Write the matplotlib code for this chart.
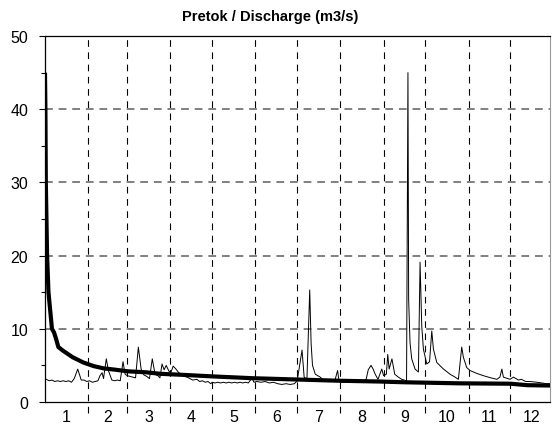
import matplotlib
matplotlib.use("Agg")
import matplotlib.pyplot as plt
from matplotlib.ticker import FixedLocator, NullFormatter, FixedFormatter

plt.rcParams['font.family'] = ['Liberation Sans', 'DejaVu Sans']

# days per month (x axis is day of year)
month_days = [31, 28, 31, 30, 31, 30, 31, 31, 30, 31, 30, 31]
month_labels = [str(m) for m in range(1, 13)]

# daily discharge hydrograph (day, m3/s)
flow_day = [1, 3, 5, 7, 9, 11, 13, 15, 17, 19, 21, 23.5, 25, 26, 28, 30, 32, 34, 36, 38,
            39.5, 41, 42, 44, 45.5, 48, 50, 52, 54, 56, 57.5, 59, 61, 63, 65, 67, 69, 71,
            73, 75, 77, 79, 81, 82.5, 84, 85.5, 87, 89, 90.5, 92, 94, 96, 98, 100, 102,
            104, 106, 109, 111, 113, 115, 117, 119, 120, 122, 124, 126, 128, 130, 132,
            134, 136, 138, 140, 142, 144, 146, 148.5, 150, 152, 155, 158, 161, 164, 167,
            170, 173, 176, 179, 181, 184.5, 186, 188, 190, 191, 192, 194, 197.5, 200,
            203, 206, 208, 210, 211, 213, 216, 219, 222, 225, 228, 230.5, 232, 234,
            235.5, 237, 239, 241.7, 243, 245, 246, 247, 249, 251, 253.6, 256, 259.5,
            260.5, 261, 262, 263.2, 265.6, 268, 269.2, 270.4, 271.6, 274, 276, 277.6,
            278.8, 281.2, 286, 290.7, 294.3, 296.7, 299.1, 300.3, 302.7, 305.1, 310,
            314.6, 320, 324.3, 326.5, 327.9, 329, 333.8, 336.2, 339.8, 342, 345, 348,
            353, 360.2, 362.5]
flow_val = [3.1, 2.9, 3.0, 2.8, 2.9, 2.8, 2.9, 2.8, 2.9, 2.7, 3.2, 4.5, 3.6, 3.0, 3.0, 2.8,
            2.9, 2.7, 2.8, 2.9, 3.6, 4.0, 3.2, 5.9, 4.3, 3.0, 2.9, 3.0, 2.9, 5.5, 3.8, 3.6,
            3.5, 3.4, 3.3, 7.5, 4.5, 3.7, 3.5, 3.2, 5.9, 3.8, 3.6, 3.3, 5.2, 4.4, 5.0, 4.2,
            4.1, 4.9, 4.5, 4.0, 3.8, 3.5, 3.4, 3.2, 3.0, 3.1, 2.8, 2.9, 2.7, 2.8, 2.5, 2.7,
            2.6, 2.7, 2.6, 2.7, 2.6, 2.7, 2.6, 2.7, 2.6, 2.7, 2.6, 2.7, 2.6, 3.3, 2.7, 2.8,
            2.7, 2.8, 2.6, 2.7, 2.5, 2.4, 2.5, 2.4, 2.5, 2.9, 7.1, 3.4, 3.1, 15.3, 8.0,
            5.0, 3.8, 3.4, 3.0, 2.9, 3.0, 2.9, 4.3, 2.9, 2.7, 2.8, 2.7, 2.8, 2.7, 2.8, 3.1,
            4.4, 5.0, 4.5, 3.8, 3.1, 4.5, 3.6, 3.8, 6.5, 4.5, 5.9, 3.8, 3.4, 3.1, 2.9,
            45.0, 14.0, 8.1, 5.9, 4.5, 4.1, 19.1, 10.4, 7.2, 5.2, 5.5, 9.7, 7.2, 5.4, 4.5,
            3.8, 3.4, 3.1, 7.5, 6.1, 4.7, 4.3, 3.9, 3.6, 3.3, 3.1, 3.4, 4.5, 3.4, 3.1, 3.4,
            3.0, 3.1, 2.8, 2.8, 2.7, 2.5, 2.5]

# flow duration curve (day, m3/s)
dur_day = [0, 0.3, 0.6, 1.5, 2.5, 5, 6.5, 8, 9.6, 13, 20, 27.5, 35, 42, 51, 59, 73, 83,
           100, 120, 149, 176, 212, 240, 257, 298, 334, 346, 362.5]
dur_val = [45, 40, 30, 20, 15, 10, 9.5, 8.6, 7.5, 7.0, 6.1, 5.4, 4.9, 4.6, 4.4, 4.2, 4.05,
           3.85, 3.7, 3.5, 3.25, 3.1, 2.9, 2.8, 2.7, 2.55, 2.5, 2.3, 2.25]

fig = plt.figure(figsize=(5.52, 4.27), dpi=100)
ax = fig.add_axes([0.0815, 0.0562, 0.915, 0.857])

bounds = []
acc = 0
for d in month_days[:-1]:
    acc += d
    bounds.append(acc)
mids = []
acc = 0
for d in month_days:
    mids.append(acc + d / 2)
    acc += d

for b in bounds:
    ax.axvline(b, ymin=-0.03, ymax=1, color='black', lw=0.8, ls=(0, (6, 5)),
               clip_on=False, zorder=1)
for yv in [10, 20, 30, 40]:
    ax.axhline(yv, color='#808080', lw=1.4, ls=(0, (4, 3)), zorder=1)

ax.plot(flow_day, flow_val, color='black', lw=0.7, zorder=2)
ax.plot(dur_day, dur_val, color='black', lw=3.0, zorder=3, solid_capstyle='butt')

ax.set_xlim(0, 362.5)
ax.set_ylim(0, 50)

ax.xaxis.set_major_locator(FixedLocator(mids))
ax.xaxis.set_major_formatter(FixedFormatter(month_labels))
ax.tick_params(axis='x', which='major', length=0, pad=5, labelsize=11.5)

ax.yaxis.set_major_locator(FixedLocator([0, 10, 20, 30, 40, 50]))
ax.yaxis.set_minor_locator(FixedLocator([5, 15, 25, 35, 45]))
ax.yaxis.set_minor_formatter(NullFormatter())
ax.tick_params(axis='y', which='major', length=4, width=0.8, pad=8, labelsize=11.5)
ax.tick_params(axis='y', which='minor', length=3, width=0.8)

for s in ['left', 'bottom', 'top']:
    ax.spines[s].set_linewidth(0.9)
ax.spines['right'].set_color('#999999')
ax.spines['right'].set_linewidth(0.8)

# title sits a little left of the axes centre in the original
fig.text(270 / 552, 1 - 17 / 427, 'Pretok / Discharge (m3/s)', fontsize=10.5,
         fontweight='bold', ha='center', va='center')

fig.savefig('out.png', dpi=100)
